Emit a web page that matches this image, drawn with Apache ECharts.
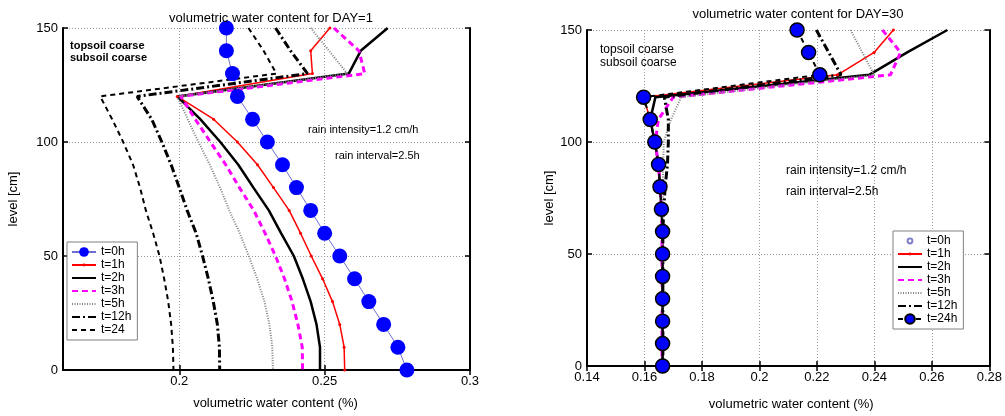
<!DOCTYPE html>
<html><head><meta charset="utf-8">
<script src="https://cdn.jsdelivr.net/npm/echarts@6/dist/echarts.min.js"></script>
<style>html,body{margin:0;padding:0;background:#fff}#c{width:1005px;height:416px}</style>
</head><body><div id="c"></div>
<script>
const levels = [150,140,130,120,110,100,90,80,70,60,50,40,30,20,10,0];
const seriesNames = ['t=0h','t=1h','t=2h','t=3h','t=5h','t=12h','t=24'];
const seriesNamesR = ['t=0h','t=1h','t=2h','t=3h','t=5h','t=12h','t=24h'];
// DAY=1
const d1_t0  = [0.2162,0.2162,0.2183,0.2200,0.2252,0.2303,0.2355,0.2403,0.2452,0.2500,0.2552,0.2603,0.2652,0.2703,0.2752,0.2783];
const d1_t1  = [0.2518,0.2452,0.2458,0.1993,0.2118,0.2200,0.2269,0.2324,0.2378,0.2417,0.2454,0.2493,0.2527,0.2552,0.2567,0.2569];
const d1_t2  = [0.2717,0.2624,0.2583,0.1993,0.2072,0.2141,0.2203,0.2255,0.2308,0.2350,0.2394,0.2425,0.2452,0.2472,0.2484,0.2484];
const d1_t3  = [0.2532,0.2618,0.2638,0.2005,0.2055,0.2107,0.2160,0.2207,0.2256,0.2295,0.2331,0.2362,0.2388,0.2408,0.2423,0.2424];
const d1_t5  = [0.2452,0.2515,0.2578,0.1993,0.2029,0.2066,0.2105,0.2140,0.2172,0.2208,0.2239,0.2268,0.2293,0.2310,0.2320,0.2322];
const d1_t12 = [0.2331,0.2383,0.2441,0.1855,0.1905,0.1940,0.1972,0.2000,0.2027,0.2058,0.2080,0.2100,0.2117,0.2131,0.2138,0.2139];
const d1_t24 = [0.2238,0.2290,0.2334,0.1728,0.1769,0.1807,0.1841,0.1865,0.1885,0.1910,0.1932,0.1948,0.1962,0.1972,0.1978,0.1980];
// DAY=30
const d30_t0  = [0.2131,0.2171,0.2210,0.1597,0.1620,0.1636,0.1649,0.1654,0.1659,0.1663,0.1663,0.1663,0.1663,0.1663,0.1663,0.1663];
const d30_t1  = [0.2466,0.2399,0.2272,0.1597,0.1620,0.1636,0.1649,0.1654,0.1659,0.1663,0.1663,0.1663,0.1663,0.1663,0.1663,0.1663];
const d30_t2  = [0.2654,0.2514,0.2382,0.1638,0.1620,0.1636,0.1649,0.1654,0.1659,0.1663,0.1663,0.1663,0.1663,0.1663,0.1663,0.1663];
const d30_t3  = [0.2428,0.2491,0.2456,0.1700,0.1648,0.1638,0.1648,0.1655,0.1659,0.1661,0.1661,0.1661,0.1661,0.1661,0.1661,0.1661];
const d30_t5  = [0.2317,0.2358,0.2399,0.1728,0.1692,0.1667,0.1665,0.1664,0.1664,0.1664,0.1664,0.1664,0.1664,0.1664,0.1664,0.1664];
const d30_t12 = [0.2198,0.2241,0.2284,0.1669,0.1683,0.1683,0.1680,0.1672,0.1667,0.1664,0.1664,0.1664,0.1664,0.1664,0.1664,0.1664];
const d30_t24 = [0.2131,0.2171,0.2210,0.1597,0.1620,0.1636,0.1649,0.1654,0.1659,0.1663,0.1663,0.1663,0.1663,0.1663,0.1663,0.1663];
const xTicksL = [0.2,0.25,0.3];

const FONT = 'Liberation Sans, Arial, sans-serif';
const NO_SYM = 'path://M0,0M10,10';
const DOT_SYM = 'path://M0,0M10,10M3.5,5a1.5,1.5 0 1,0 3,0a1.5,1.5 0 1,0 -3,0z';
const RING_SYM = 'path://M0,0M10,10M2.5,5a2.5,2.5 0 1,0 5,0a2.5,2.5 0 1,0 -5,0z';
const pair = arr => arr.map((v,i)=>[v, levels[i]]);
const chart = echarts.init(document.getElementById('c'), null, {renderer:'canvas'});

const gridLine = {show:true, lineStyle:{color:'#9a9a9a', type:[1,2], width:1}};
const axisLine = {show:true, lineStyle:{color:'#000', width:2}};
const tickIn = {show:true, inside:true, length:5, lineStyle:{color:'#000', width:1.5}};
const lbl = {color:'#000', fontSize:13, fontFamily:FONT, margin:5};

function lineSer(name, data, xi, yi, style, sym) {
  return {
    type:'line', name, data:pair(data), xAxisIndex:xi, yAxisIndex:yi,
    showSymbol: !!sym, symbol: sym ? sym.symbol : NO_SYM, symbolSize: sym ? sym.size : 10,
    itemStyle: sym ? sym.item : {color:'rgba(0,0,0,0)'},
    lineStyle: style, animation:false, silent:true, z: style.z || 2
  };
}

const series = [
  // Left (DAY=1)
  lineSer('t=0h', d1_t0, 0, 0, {color:'#6f6fd0', width:1}, {symbol:'circle', size:15, item:{color:'#0000ff', borderWidth:0}}),
  lineSer('t=1h', d1_t1, 0, 0, {color:'#ff0000', width:1.5}, {symbol:DOT_SYM, size:10, item:{color:'#ff0000'}}),
  lineSer('t=2h', d1_t2, 0, 0, {color:'#000', width:2.5}),
  lineSer('t=3h', d1_t3, 0, 0, {color:'#ff00ff', width:3, type:[6,4]}),
  lineSer('t=5h', d1_t5, 0, 0, {color:'#808080', width:2, type:[1,1.5]}),
  lineSer('t=12h', d1_t12, 0, 0, {color:'#000', width:3, type:[8,3,2,3]}),
  lineSer('t=24', d1_t24, 0, 0, {color:'#000', width:2, type:[5,4]}),
  // Right (DAY=30)
  lineSer('R:t=0h', d30_t0, 2, 2, {color:'#8080c8', width:0, opacity:0, z:1}, {symbol:RING_SYM, size:12, item:{color:'rgba(0,0,0,0)', borderColor:'#8080c8', borderWidth:1}}),
  lineSer('R:t=1h', d30_t1, 2, 2, {color:'#ff0000', width:1.5}, {symbol:DOT_SYM, size:10, item:{color:'#ff0000'}}),
  lineSer('R:t=2h', d30_t2, 2, 2, {color:'#000', width:2.5}),
  lineSer('R:t=3h', d30_t3, 2, 2, {color:'#ff00ff', width:3, type:[6,4]}),
  lineSer('R:t=5h', d30_t5, 2, 2, {color:'#808080', width:2, type:[1,1.5]}),
  lineSer('R:t=12h', d30_t12, 2, 2, {color:'#000', width:3, type:[8,3,2,3]}),
  lineSer('R:t=24h', d30_t24, 2, 2, {color:'#000', width:2, type:[5,4], z:5}, {symbol:'circle', size:14, item:{color:'#0000ff', borderColor:'#000', borderWidth:1.5}})
];

const legendBase = {
  orient:'vertical', itemWidth:24, itemHeight:12, itemGap:1,
  backgroundColor:'#fff', borderColor:'#808080', borderWidth:1, borderRadius:0,
  padding:[4,6,4,4], textStyle:{fontSize:12, fontFamily:FONT, color:'#000'},
  selectedMode:false, z:10
};

chart.setOption({
  backgroundColor:'#fff',
  textStyle:{fontFamily:FONT},
  title:[
    {text:'volumetric water content for DAY=1', left:266, top:7, textAlign:'center',
     textStyle:{fontSize:13, fontWeight:'normal', color:'#000', fontFamily:FONT}},
    {text:'volumetric water content for DAY=30', left:793, top:3, textAlign:'center',
     textStyle:{fontSize:13, fontWeight:'normal', color:'#000', fontFamily:FONT}}
  ],
  grid:[
    {left:63, right:535, top:28, bottom:46, containLabel:false},
    {left:587, right:12, top:30, bottom:46, containLabel:false}
  ],
  xAxis:[
    {type:'value', gridIndex:0, min:0.16, max:0.3, position:'bottom',
     axisLine, axisTick:Object.assign({customValues:xTicksL}, tickIn),
     axisLabel:Object.assign({customValues:xTicksL, formatter:v=>String(+v.toFixed(2))}, lbl),
     splitLine:gridLine,
     name:'volumetric water content (%)', nameLocation:'middle', nameGap:27,
     nameTextStyle:{fontSize:13, color:'#000', fontFamily:FONT, padding:[0,0,0,18]}},
    {type:'value', gridIndex:0, min:0.16, max:0.3, position:'top',
     axisLine, axisTick:Object.assign({customValues:xTicksL}, tickIn), axisLabel:{show:false}, splitLine:{show:false}},
    {type:'value', gridIndex:1, min:0.14, max:0.28, interval:0.02, position:'bottom',
     axisLine, axisTick:tickIn, axisLabel:Object.assign({formatter:v=>String(+v.toFixed(2))}, lbl),
     splitLine:gridLine,
     name:'volumetric water content (%)', nameLocation:'middle', nameGap:32,
     nameTextStyle:{fontSize:13, color:'#000', fontFamily:FONT, padding:[0,0,0,6]}},
    {type:'value', gridIndex:1, min:0.14, max:0.28, interval:0.02, position:'top',
     axisLine, axisTick:tickIn, axisLabel:{show:false}, splitLine:{show:false}}
  ],
  yAxis:[
    {type:'value', gridIndex:0, min:0, max:150, interval:50, position:'left',
     axisLine, axisTick:tickIn, axisLabel:lbl, splitLine:gridLine,
     name:'level [cm]', nameLocation:'middle', nameGap:43, nameRotate:90,
     nameTextStyle:{fontSize:13, color:'#000', fontFamily:FONT}},
    {type:'value', gridIndex:0, min:0, max:150, interval:50, position:'right',
     axisLine, axisTick:tickIn, axisLabel:{show:false}, splitLine:{show:false}},
    {type:'value', gridIndex:1, min:0, max:150, interval:50, position:'left',
     axisLine, axisTick:tickIn, axisLabel:lbl, splitLine:gridLine,
     name:'level [cm]', nameLocation:'middle', nameGap:31, nameRotate:90,
     nameTextStyle:{fontSize:13, color:'#000', fontFamily:FONT}},
    {type:'value', gridIndex:1, min:0, max:150, interval:50, position:'right',
     axisLine, axisTick:tickIn, axisLabel:{show:false}, splitLine:{show:false}}
  ],
  legend:[
    Object.assign({left:67, top:242, data:seriesNames}, legendBase),
    Object.assign({left:893, top:231, data:seriesNamesR.map(n=>'R:'+n), formatter:n=>n.replace(/^R:/,'')}, legendBase)
  ],
  graphic:[
    {type:'text', left:70, top:40, style:{text:'topsoil coarse\nsubsoil coarse', lineHeight:12, fill:'#000', font:'bold 11px '+FONT}},
    {type:'text', left:600, top:43, style:{text:'topsoil coarse\nsubsoil coarse', lineHeight:13, fill:'#000', font:'12px '+FONT}},
    {type:'text', left:308, top:124, style:{text:'rain intensity=1.2 cm/h', fill:'#000', font:'11px '+FONT}},
    {type:'text', left:335, top:150, style:{text:'rain interval=2.5h', fill:'#000', font:'11px '+FONT}},
    {type:'text', left:786, top:165, style:{text:'rain intensity=1.2 cm/h', fill:'#000', font:'12px '+FONT}},
    {type:'text', left:786, top:186, style:{text:'rain interval=2.5h', fill:'#000', font:'12px '+FONT}}
  ],
  series
});
</script></body></html>
